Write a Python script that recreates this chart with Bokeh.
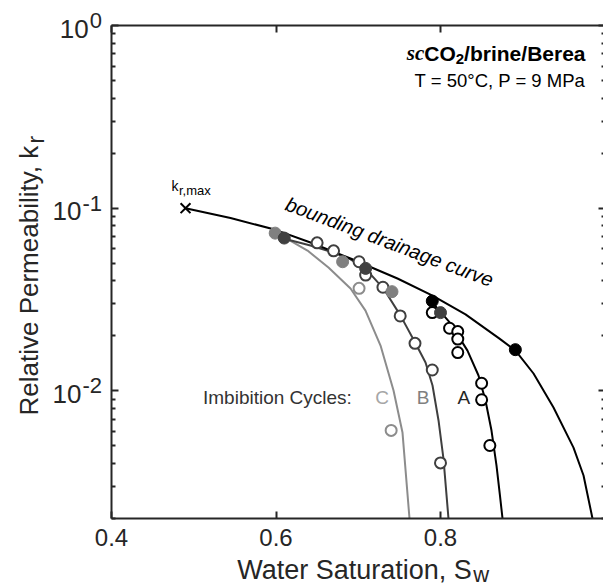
import math
from bokeh.plotting import figure
from bokeh.models import Range1d, Label, LinearAxis, LogAxis, FixedTicker, CustomJSTickFormatter
from bokeh.embed import file_html
from bokeh.resources import INLINE

# ---------------- data ----------------
bound_sw = [0.490, 0.5447, 0.5994, 0.6419, 0.6906, 0.7477, 0.7903, 0.8304, 0.8717,
            0.8912, 0.9131, 0.9374, 0.9617, 0.9739, 0.9848]
bound_kr = [0.100, 0.0884, 0.0761, 0.0649, 0.0530, 0.0412, 0.0332, 0.0262, 0.0193,
            0.0166, 0.01244, 0.00810, 0.00489, 0.00344, 0.0020]

curveA_sw = [0.7903, 0.8122, 0.8328, 0.8462, 0.8547, 0.8620, 0.8681, 0.8723, 0.8754]
curveA_kr = [0.0304, 0.0234, 0.0166, 0.01213, 0.00885, 0.00606, 0.00390, 0.00267, 0.0020]

curveB_sw = [0.6091, 0.6419, 0.6699, 0.6906, 0.7088, 0.7307, 0.7514, 0.7696, 0.7818,
             0.7903, 0.7976, 0.8036, 0.8097]
curveB_kr = [0.0682, 0.0625, 0.0572, 0.0524, 0.0467, 0.0363, 0.0258, 0.0182, 0.01429,
             0.01069, 0.00688, 0.00426, 0.0020]

curveC_sw = [0.6006, 0.6188, 0.6383, 0.6638, 0.6906, 0.7088, 0.7271, 0.7429, 0.7538, 0.7623]
curveC_kr = [0.0727, 0.0657, 0.0586, 0.0473, 0.0363, 0.0275, 0.0177, 0.01004, 0.00591, 0.0020]

# drainage end points (filled)
drainA_sw = [0.790, 0.891]
drainA_kr = [0.0310, 0.0168]
drainB_sw = [0.610, 0.709, 0.800]
drainB_kr = [0.0686, 0.0468, 0.0268]
drainC_sw = [0.599, 0.681, 0.741]
drainC_kr = [0.0730, 0.0509, 0.0349]

# imbibition points (open)
imbA_sw = [0.790, 0.811, 0.821, 0.821, 0.821, 0.850, 0.850, 0.860]
imbA_kr = [0.0268, 0.0220, 0.0211, 0.0192, 0.0162, 0.0110, 0.00893, 0.00502]
imbB_sw = [0.650, 0.670, 0.701, 0.709, 0.730, 0.751, 0.769, 0.790, 0.800]
imbB_kr = [0.0646, 0.0584, 0.0509, 0.0430, 0.0369, 0.0257, 0.0182, 0.0130, 0.00403]
imbC_sw = [0.701, 0.740]
imbC_kr = [0.0364, 0.00607]

krmax_sw = [0.49]
krmax_kr = [0.10]

x_ticks = [0.4, 0.6, 0.8, 1.0]
y_ticks = [1.0, 0.1, 0.01]
y_tick_exp = ["0", "-1", "-2"]
y_minor = [0.002, 0.003, 0.004, 0.005, 0.006, 0.007, 0.008, 0.009,
           0.02, 0.03, 0.04, 0.05, 0.06, 0.07, 0.08, 0.09,
           0.2, 0.3, 0.4, 0.5, 0.6, 0.7, 0.8, 0.9]

X0, X1 = 0.4, 1.0
Y0, Y1 = 0.002, 1.0

# ---------------- styling ----------------
AX = "#262626"
FONT = "Liberation Sans"
colA, colB, colC = "#000000", "#3f3f3f", "#8c8c8c"

# Arial / Liberation Sans advance widths (per 1000 em)
W = {' ': 278, ',': 278, '.': 278, '-': 333, '/': 278, ':': 278, '=': 584, '°': 400,
     'A': 667, 'B': 667, 'C': 722, 'I': 278, 'M': 833, 'P': 667, 'R': 722, 'S': 667,
     'T': 611, 'W': 944, 'O': 778,
     'a': 556, 'b': 556, 'c': 500, 'd': 556, 'e': 556, 'g': 556, 'i': 222, 'k': 500,
     'l': 222, 'm': 833, 'n': 556, 'o': 556, 'r': 333, 's': 500, 't': 278, 'u': 556,
     'v': 500, 'w': 722, 'x': 500, 'y': 500}
for d in "0123456789":
    W[d] = 556
WB = {'/': 278, 'b': 611, 'r': 389, 'i': 278, 'n': 611, 'e': 556, 'B': 722, 'a': 556,
      'C': 722, 'O': 778, '2': 556}


def tw(s, size, table=W):
    return sum(table[c] for c in s) * size / 1000.0


# canvas size and position of the axes box in it (pixels)
PXW, PXH = 603, 588
FX0, FX1, FY0, FY1 = 111.0, 604.5, 25.0, 518.0
LY0, LY1 = math.log10(Y0), math.log10(Y1)


def at(px, py):
    x = X0 + (px - FX0) / (FX1 - FX0) * (X1 - X0)
    ly = LY1 - (py - FY0) / (FY1 - FY0) * (LY1 - LY0)
    return x, 10 ** ly


xr0, yr1 = at(0, 0)
xr1, yr0 = at(PXW, PXH)

p = figure(width=PXW, height=PXH, x_range=Range1d(xr0, xr1), y_range=Range1d(yr0, yr1),
           y_axis_type="log", output_backend="svg", toolbar_location=None,
           min_border=0)
p.outline_line_color = None
p.grid.visible = False
p.background_fill_color = "white"
p.border_fill_color = "white"

blank = CustomJSTickFormatter(code="return ''")


def style(ax):
    ax.axis_line_color = AX
    ax.axis_line_width = 2
    ax.major_tick_line_color = AX
    ax.major_tick_line_width = 2
    ax.major_tick_in = 7
    ax.major_tick_out = 0
    ax.minor_tick_line_color = AX
    ax.minor_tick_line_width = 2
    ax.minor_tick_in = 4
    ax.minor_tick_out = 0


xa = p.xaxis[0]
xa.ticker = FixedTicker(ticks=x_ticks)
xa.formatter = CustomJSTickFormatter(code="return tick > 0.99 ? '' : tick.toFixed(1)")
xa.fixed_location = Y0
xa.bounds = (X0, X1)
style(xa)
xa.major_label_text_font = FONT
xa.major_label_text_font_size = "24px"
xa.major_label_text_color = AX
xa.major_label_standoff = 10

ya = p.yaxis[0]
ya.ticker = FixedTicker(ticks=y_ticks, minor_ticks=y_minor)
ya.formatter = blank
ya.fixed_location = X0
ya.bounds = (Y0, Y1)
style(ya)

top = LinearAxis(ticker=FixedTicker(ticks=x_ticks), formatter=blank,
                 fixed_location=Y1, bounds=(X0, X1))
style(top)
p.add_layout(top, "above")

right = LogAxis(ticker=FixedTicker(ticks=y_ticks, minor_ticks=y_minor), formatter=blank,
                fixed_location=X1, bounds=(Y0, Y1))
style(right)
right.axis_line_color = None
p.add_layout(right, "right")

# ---------------- curves ----------------
p.line(curveC_sw, curveC_kr, line_color=colC, line_width=2)
p.line(curveB_sw, curveB_kr, line_color=colB, line_width=2)
p.line(curveA_sw, curveA_kr, line_color=colA, line_width=2)
p.line(bound_sw, bound_kr, line_color="black", line_width=2)

# ---------------- points ----------------
for sw, kr, c in [(imbC_sw, imbC_kr, colC), (imbB_sw, imbB_kr, colB), (imbA_sw, imbA_kr, colA)]:
    p.scatter(sw, kr, marker="circle", size=11, fill_color="white", line_color=c, line_width=2)
for sw, kr, c in [(drainC_sw, drainC_kr, "#808080"), (drainB_sw, drainB_kr, "#404040"),
                  (drainA_sw, drainA_kr, "#000000")]:
    p.scatter(sw, kr, marker="circle", size=12, fill_color=c, line_color=c, line_width=1)
p.scatter(krmax_sw, krmax_kr, marker="x", size=14, line_color="black", line_width=2)


def lab(px, base, text, size, color="black", align="left", angle=0.0, font=FONT,
        style="normal"):
    """Place a text whose baseline lies at pixel `base` (x for rotated text)."""
    if angle == 0.0:
        x, y = at(px, base - 0.35 * size)
    else:
        x, y = at(base - 0.35 * size, px)
    p.add_layout(Label(x=x, y=y, text=text, text_font=font, text_font_size=f"{size}px",
                       text_color=color, text_align=align, text_baseline="middle",
                       angle=angle, text_font_style=style))


# y tick labels 10^n
BASE, EXP = 26, 22
for v, e in zip(y_ticks, y_tick_exp):
    py = FY0 + (LY1 - math.log10(v)) / (LY1 - LY0) * (FY1 - FY0)
    right_edge = 101.5
    lab(right_edge, py - 5 + 0.35 * EXP, e, EXP, AX, "right")
    lab(right_edge - tw(e, EXP) - 1, py + 3 + 0.35 * BASE, "10", BASE, AX, "right")

# axis titles
XL = 27
xl_text = "Water Saturation, S"
xw = tw(xl_text, XL)
lab(236.7, 579, xl_text, XL, AX)
lab(236.7 + xw + 0.5, 582, "w", 22, AX)

YL = 26
yl_text = "Relative Permeability, k"
yw = tw(yl_text, YL)
lab(415, 38, yl_text, YL, AX, "left", math.pi / 2)
lab(415 - yw - 0.5, 44, "r", 23, AX, "left", math.pi / 2)

# title block (top right)
TS = 21
r_edge = 585.0
w1 = tw("/brine/Berea", TS, WB)
w2 = tw("2", 15, WB)
w3 = tw("CO", TS, WB)
lab(r_edge - w1, 60, "/brine/Berea", TS, "black", style="bold")
lab(r_edge - w1 - w2, 64, "2", 15, "black", style="bold")
lab(r_edge - w1 - w2 - w3, 60, "CO", TS, "black", style="bold")
lab(r_edge - w1 - w2 - w3, 60, "sc", TS, "black", "right", font="Liberation Serif",
    style="bold italic")
lab(r_edge, 86.5, "T = 50°C, P = 9 MPa", 18.5, "black", "right")

# k_r,max
lab(178, 190, "k", 14, "black", "right")
lab(178.5, 195, "r,max", 13, "black", "left")

# bounding drainage curve (rotated, centred on its own middle)
bx, by = at(389, 241.4)
p.add_layout(Label(x=bx, y=by, text="bounding drainage curve", text_font=FONT,
                   text_font_size="20px", text_color="black", text_align="center",
                   text_baseline="middle", angle=-0.36, text_font_style="italic"))

# imbibition cycles
lab(202.5, 404, "Imbibition Cycles:", 19, "#333333")
lab(381.7, 404, "C", 19, "#a6a6a6", "center")
lab(422.5, 404, "B", 19, "#808080", "center")
lab(463.3, 404, "A", 19, "#262626", "center")

open("out.html", "w").write(file_html(p, INLINE))
